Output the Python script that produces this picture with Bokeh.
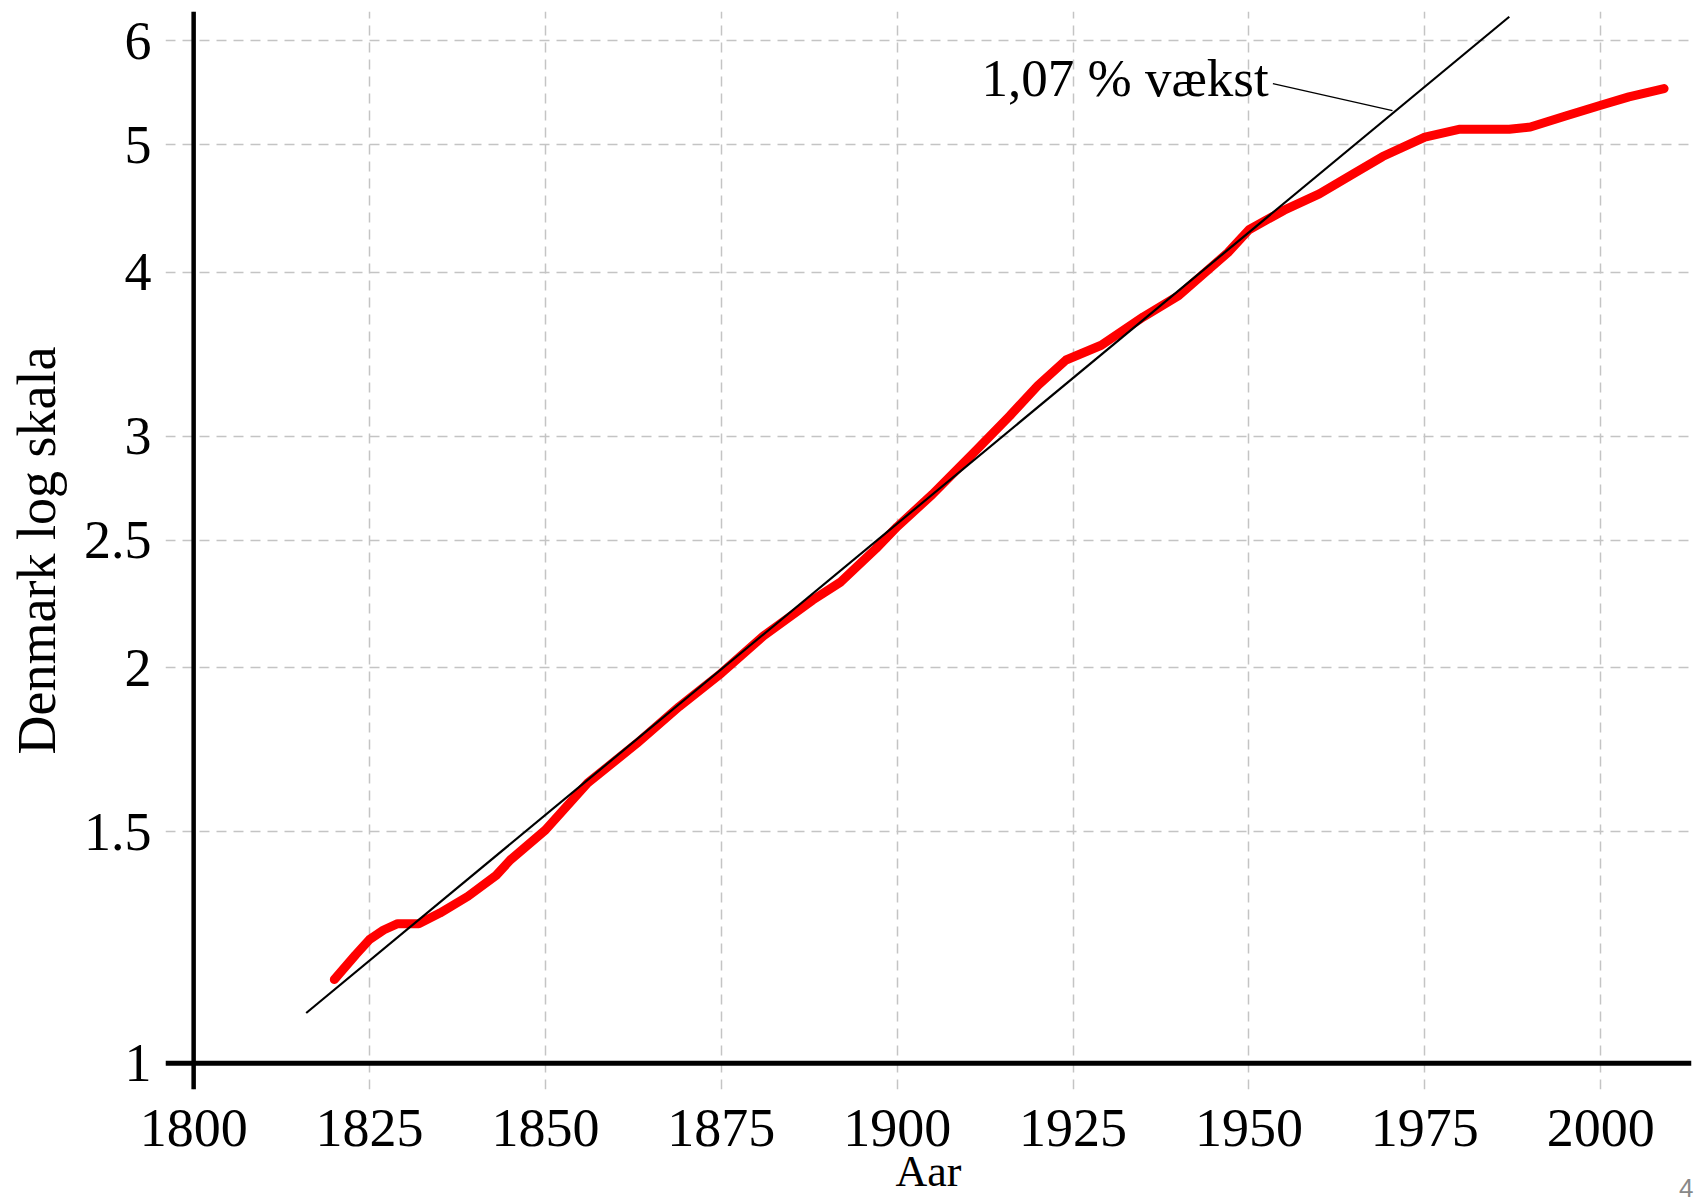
from bokeh.plotting import figure
from bokeh.models import FixedTicker, Span, Label, Range1d, Title
from bokeh.embed import file_html
from bokeh.resources import INLINE

# Denmark population (millions)
years = [1820, 1823, 1825, 1827, 1829, 1832, 1835, 1839, 1843, 1845, 1850,
         1856, 1863, 1869, 1875, 1881, 1888, 1892, 1897, 1900, 1905, 1911,
         1916, 1920, 1924, 1929, 1935, 1940, 1947, 1950, 1955, 1960, 1965,
         1969, 1975, 1980, 1987, 1990, 1995, 2000, 2004, 2009]
population = [1.158, 1.209, 1.242, 1.263, 1.277, 1.277, 1.301, 1.340, 1.390,
              1.428, 1.505, 1.634, 1.752, 1.868, 1.981, 2.115, 2.252, 2.325,
              2.465, 2.561, 2.710, 2.920, 3.110, 3.280, 3.430, 3.520, 3.700,
              3.840, 4.140, 4.310, 4.460, 4.590, 4.760, 4.900, 5.070, 5.140,
              5.140, 5.160, 5.260, 5.360, 5.440, 5.520]

# exponential trend line ("1,07 % vækst")
trend_years = [1816, 1987]
trend_values = [1.092, 6.26]

x_ticks = [1800, 1825, 1850, 1875, 1900, 1925, 1950, 1975, 2000]
y_ticks = [1, 1.5, 2, 2.5, 3, 4, 5, 6]
y_tick_labels = ["1", "1.5", "2", "2.5", "3", "4", "5", "6"]

annotation_text = "1,07 % vækst"
x_title = "Aar"
y_title = "Denmark log skala"
page_number = "4"

FONT = "Liberation Serif"

p = figure(width=1700, height=1198,
           x_range=Range1d(1796.0, 2012.9), y_range=Range1d(0.955, 6.318),
           y_axis_type="log", output_backend="svg", toolbar_location=None,
           min_border_left=165, min_border_right=9, min_border_top=11,
           min_border_bottom=108)
p.outline_line_color = None
p.background_fill_color = "white"

# axes: labels only, axis lines drawn as spans
for ax in (p.xaxis[0], p.yaxis[0]):
    ax.axis_line_color = None
    ax.major_tick_line_color = None
    ax.minor_tick_line_color = None
    ax.major_label_text_font = FONT
    ax.major_label_text_font_size = "54px"
    ax.major_label_text_color = "black"

p.xaxis.ticker = FixedTicker(ticks=x_ticks)
p.xaxis.major_label_standoff = 14
p.xaxis.axis_label = x_title
p.xaxis.axis_label_text_font = FONT
p.xaxis.axis_label_text_font_size = "44px"
p.xaxis.axis_label_text_font_style = "normal"
p.xaxis.axis_label_text_color = "black"
p.xaxis.axis_label_standoff = -2

p.yaxis.ticker = FixedTicker(ticks=y_ticks)
p.yaxis.major_label_overrides = {t: l for t, l in zip(y_ticks, y_tick_labels)}
p.yaxis.major_label_standoff = 8
p.yaxis.axis_label = y_title
p.yaxis.axis_label_text_font = FONT
p.yaxis.axis_label_text_font_size = "54px"
p.yaxis.axis_label_text_font_style = "normal"
p.yaxis.axis_label_text_color = "black"
p.yaxis.axis_label_standoff = 14

for g in (p.xgrid[0], p.ygrid[0]):
    g.grid_line_color = "#c4c4c4"
    g.grid_line_dash = "10 7"
    g.grid_line_width = 1.5
p.xgrid.ticker = FixedTicker(ticks=x_ticks)
p.ygrid.ticker = FixedTicker(ticks=y_ticks)

p.line(years, population, line_color="#ff0000", line_width=9, line_join="round", line_cap="round")
p.line(trend_years, trend_values, line_color="black", line_width=2.2)

# leader line of the annotation
p.line([1953.4, 1970.4], [5.567, 5.31], line_color="black", line_width=1.3)
p.add_layout(Label(x=1912.0, y=5.62, text=annotation_text, text_font=FONT,
                   text_font_size="53px", text_align="left",
                   text_baseline="alphabetic", text_color="black"))

p.add_layout(Span(location=1800, dimension="height", line_color="black", line_width=4.5))
p.add_layout(Span(location=1, dimension="width", line_color="black", line_width=5))

p.add_layout(Title(text=page_number, align="right", vertical_align="top",
                   text_font="Liberation Sans", text_font_size="26px",
                   text_font_style="normal", text_color="#888888",
                   standoff=-40, offset=-2), "below")

open("out.html", "w").write(file_html(p, INLINE))
